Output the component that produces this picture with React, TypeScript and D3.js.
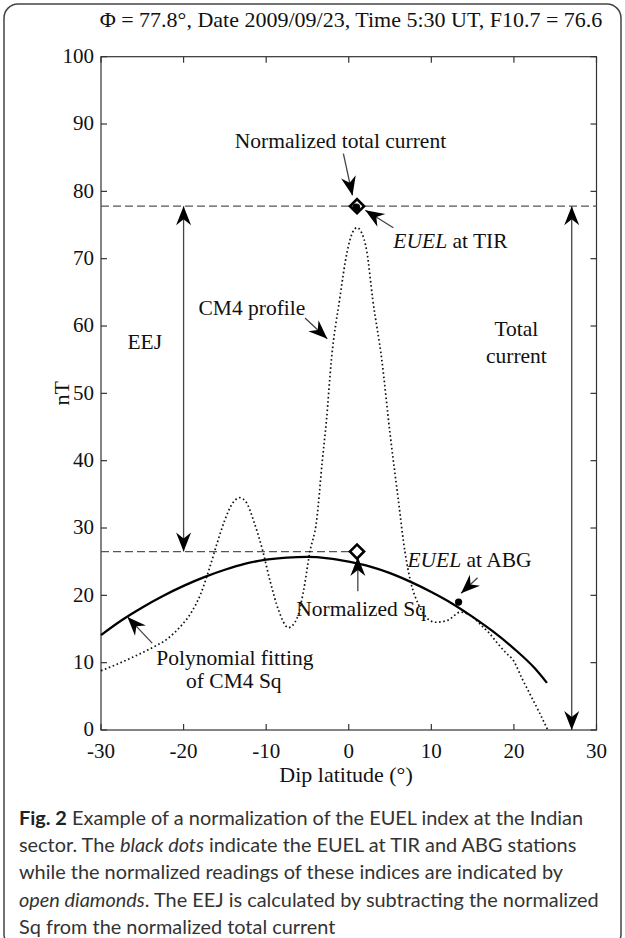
import * as d3 from 'd3';

// CM4 profile (dotted), dip latitude vs nT
const cm4Lat = [-30, -28, -26, -24, -22, -20.5, -19, -18, -17, -16, -15, -14, -13.2, -12.4, -11.5, -10.5, -9.5, -8.5, -7.3, -6.3, -5.5, -4.7, -3.9, -3.2, -2.7, -2.1, -1.1, -0.2, 0.5, 1, 1.5, 2.2, 2.9, 4, 5, 6, 6.8, 7.5, 8.5, 9.5, 10.5, 12, 13.5, 15, 16, 17, 18, 19, 20, 21, 22, 23, 24.1];
const cm4Val = [8.8, 9.8, 10.9, 12.1, 13.5, 15.2, 17.6, 20, 23.5, 27.5, 31.2, 33.8, 34.5, 33.8, 31, 27, 22, 17.8, 15.2, 16.5, 20.5, 26.5, 31, 40, 46, 55, 64, 71, 74, 74.6, 74, 71, 64, 55, 44, 34.2, 26.5, 22, 18.5, 16.6, 16, 16.3, 17.5, 16.8, 15.6, 14.4, 12.9, 11.5, 10.2, 7.6, 5.2, 2.8, 0];

// polynomial fitting of CM4 Sq (solid)
const fitLat = [-30, -27.5, -25, -22.5, -20, -17.5, -15, -12.5, -10, -7.5, -5, -2.5, 0, 2.5, 5, 7.5, 10, 12.5, 15, 17.5, 20, 22.5, 24];
const fitVal = [14.1, 16.3, 18.2, 19.9, 21.4, 22.7, 23.8, 24.7, 25.3, 25.6, 25.7, 25.5, 25.0, 24.3, 23.3, 22.0, 20.5, 18.8, 16.8, 14.6, 12.1, 9.2, 7.0];

// EUEL readings (black dots) and normalized values (open diamonds)
const euelStations = ['TIR', 'ABG'];
const euelLat = [0.9, 13.3];
const euelVal = [77.6, 19.0];
const normLat = [1.0, 1.0];
const normVal = [77.8, 26.5];

const xTicks = [-30, -20, -10, 0, 10, 20, 30];
const yTicks = [0, 10, 20, 30, 40, 50, 60, 70, 80, 90, 100];

const titleText = 'Φ = 77.8°, Date 2009/09/23, Time 5:30 UT, F10.7 = 76.6';

const captionLines = [
  [{ t: 'Fig. 2', b: true }, { t: ' Example of a normalization of the EUEL index at the Indian' }],
  [{ t: 'sector. The ' }, { t: 'black dots', i: true }, { t: ' indicate the EUEL at TIR and ABG stations' }],
  [{ t: 'while the normalized readings of these indices are indicated by' }],
  [{ t: 'open diamonds', i: true }, { t: '. The EEJ is calculated by subtracting the normalized' }],
  [{ t: 'Sq from the normalized total current' }],
];

// annotation arrows in data units: [fromLat, fromVal, toLat, toVal, doubleHeaded]
const arrows: [number, number, number, number, boolean][] = [
  [-20, 26.5, -20, 77.8, true],
  [27, 0, 27, 77.8, true],
  [-0.65, 85.6, 0.45, 79.4, false],
  [5.4, 74.6, 2.0, 77.2, false],
  [-5.3, 61.2, -2.6, 58.1, false],
  [1.1, 20.6, 1.1, 25.7, false],
  [15.6, 22.6, 13.6, 20.3, false],
  [-23.8, 12.9, -26.8, 16.8, false],
];

const W = 625;
const H = 938;
const margin = { left: 101, right: 596.5, top: 56.7, bottom: 730 };
const serif = '"Liberation Serif", "Times New Roman", serif';

function ArrowHead({ x1, y1, x2, y2 }: { x1: number; y1: number; x2: number; y2: number }) {
  const ang = Math.atan2(y2 - y1, x2 - x1);
  const L = 19, Wd = 7.5, N = 13;
  const c = Math.cos(ang), s = Math.sin(ang);
  const pt = (a: number, b: number) => `${x2 + a * c - b * s},${y2 + a * s + b * c}`;
  return <polygon points={[pt(0, 0), pt(-L, Wd), pt(-N, 0), pt(-L, -Wd)].join(' ')} fill="#000" />;
}

export default function App() {
  const x = d3.scaleLinear().domain([-30, 30]).range([margin.left, margin.right]);
  const y = d3.scaleLinear().domain([0, 100]).range([margin.bottom, margin.top]);

  const line = d3.line<[number, number]>()
    .x(d => x(d[0]))
    .y(d => y(d[1]))
    .curve(d3.curveMonotoneX);

  const cm4 = cm4Lat.map((l, i) => [l, cm4Val[i]] as [number, number]);
  const fit = fitLat.map((l, i) => [l, fitVal[i]] as [number, number]);
  const diamond = d3.symbol().type(d3.symbolSquare).size(100)();

  const label = (txt: React.ReactNode, lat: number, val: number, anchor = 'start') => (
    <text x={x(lat)} y={y(val)} dy="0.35em" textAnchor={anchor} fontSize={21.5} fontFamily={serif} fill="#111">{txt}</text>
  );

  return (
    <svg width={W} height={H} style={{ position: 'absolute', left: 0, top: 0, background: '#fff' }}>
      <rect x={4} y={4} width={617} height={944} rx={14} fill="none" stroke="#444" strokeWidth={1.5} />

      <text x={351} y={19} dy="0.35em" textAnchor="middle" fontSize={22} fontFamily={serif} fill="#111">{titleText}</text>

      {/* frame and inward ticks */}
      <rect x={margin.left} y={margin.top} width={margin.right - margin.left} height={margin.bottom - margin.top} fill="none" stroke="#333" strokeWidth={1.2} />
      {xTicks.map(t => (
        <g key={'x' + t}>
          <line x1={x(t)} x2={x(t)} y1={margin.bottom} y2={margin.bottom - 6} stroke="#333" strokeWidth={1.2} />
          <line x1={x(t)} x2={x(t)} y1={margin.top} y2={margin.top + 6} stroke="#333" strokeWidth={1.2} />
          <text x={x(t)} y={751} dy="0.35em" textAnchor="middle" fontSize={21} fontFamily={serif} fill="#111">{t}</text>
        </g>
      ))}
      {yTicks.map(t => (
        <g key={'y' + t}>
          <line x1={margin.left} x2={margin.left + 6} y1={y(t)} y2={y(t)} stroke="#333" strokeWidth={1.2} />
          <line x1={margin.right} x2={margin.right - 6} y1={y(t)} y2={y(t)} stroke="#333" strokeWidth={1.2} />
          <text x={margin.left - 7} y={y(t) - 1} dy="0.35em" textAnchor="end" fontSize={21} fontFamily={serif} fill="#111">{t}</text>
        </g>
      ))}
      <text transform={`translate(61,${(margin.top + margin.bottom) / 2}) rotate(-90)`} dy="0.35em" textAnchor="middle" fontSize={22} fontFamily={serif} fill="#111">nT</text>
      <text x={346} y={774} dy="0.35em" textAnchor="middle" fontSize={22} fontFamily={serif} fill="#111">Dip latitude (°)</text>

      {/* dashed reference levels */}
      <line x1={margin.left} x2={margin.right} y1={y(normVal[0])} y2={y(normVal[0])} stroke="#555" strokeWidth={1.2} strokeDasharray="8 4" />
      <line x1={margin.left} x2={x(normLat[1]) - 7} y1={y(normVal[1])} y2={y(normVal[1])} stroke="#555" strokeWidth={1.2} strokeDasharray="8 4" />

      <path d={line(cm4) ?? ''} fill="none" stroke="#111" strokeWidth={1.7} strokeDasharray="1.6 2.6" />
      <path d={line(fit) ?? ''} fill="none" stroke="#000" strokeWidth={2.3} />

      {arrows.map(([a, b, c, d, both], i) => {
        const x1 = x(a), y1 = y(b), x2 = x(c), y2 = y(d);
        return (
          <g key={'a' + i}>
            <line x1={x1} y1={y1} x2={x2} y2={y2} stroke="#444" strokeWidth={1.3} />
            <ArrowHead x1={x1} y1={y1} x2={x2} y2={y2} />
            {both && <ArrowHead x1={x2} y1={y2} x2={x1} y2={y1} />}
          </g>
        );
      })}

      {normLat.map((l, i) => (
        <path key={'d' + i} d={diamond ?? ''} transform={`translate(${x(l)},${y(normVal[i])}) rotate(45)`} fill="#fff" stroke="#000" strokeWidth={2.6} />
      ))}
      {euelStations.map((s, i) => (
        <circle key={s} cx={x(euelLat[i])} cy={y(euelVal[i])} r={i === 0 ? 4 : 3.6} fill="#000" />
      ))}

      {label('Normalized total current', -1.0, 87.5, 'middle')}
      {label(<><tspan fontStyle="italic">EUEL</tspan> at TIR</>, 5.4, 72.7)}
      {label('CM4 profile', -18.2, 62.7)}
      {label('EEJ', -24.7, 57.7, 'middle')}
      {label('Total', 20.3, 59.6, 'middle')}
      {label('current', 20.3, 55.6, 'middle')}
      {label(<><tspan fontStyle="italic">EUEL</tspan> at ABG</>, 7.1, 25.3)}
      {label('Normalized Sq', 1.5, 18.1, 'middle')}
      {label('Polynomial fitting', -23.3, 10.8)}
      {label('of CM4 Sq', -19.7, 7.4)}

      {captionLines.map((ln, i) => (
        <text key={'c' + i} x={19} y={818 + i * 27.2} dy="0.35em" fontSize={19.9} fontFamily='Lato, "Open Sans", sans-serif' fill="#333">
          {ln.map((p: any, j) => (
            <tspan key={j} fontWeight={p.b ? 'bold' : 'normal'} fontStyle={p.i ? 'italic' : 'normal'} fill={p.b ? '#222' : '#333'}>{p.t}</tspan>
          ))}
        </text>
      ))}
    </svg>
  );
}
